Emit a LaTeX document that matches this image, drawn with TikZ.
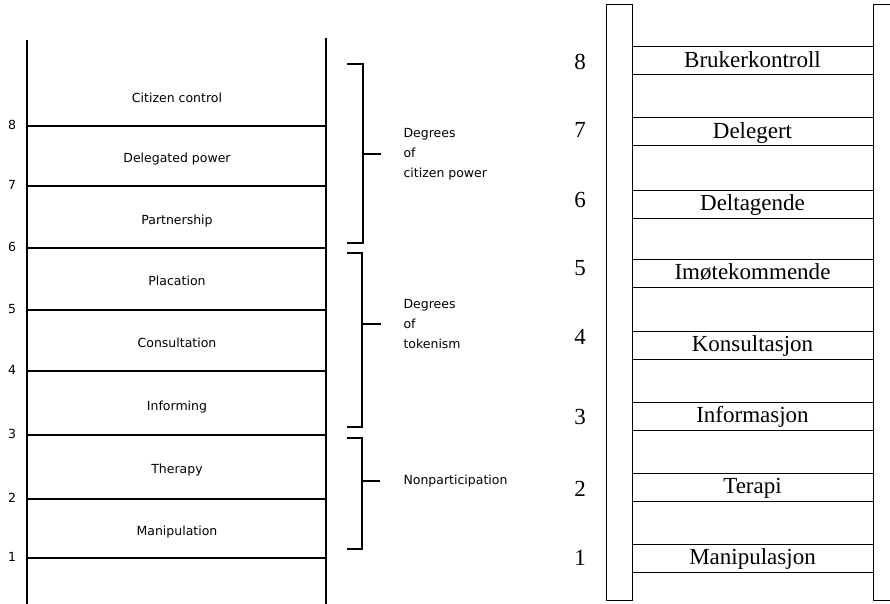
\documentclass[tikz,border=0pt]{standalone}
\usepackage{fontspec}
\setmainfont{Liberation Serif}
\newfontfamily\laddersans{DejaVu Sans}
\usepackage{tikz}
\usetikzlibrary{positioning}
\tikzset{
  rail/.style={line width=2.2pt},
  rung/.style={line width=2.6pt},
  bracket/.style={line width=2pt},
  entext/.style={font=\laddersans\fontsize{12.5}{20}\selectfont},
  notext/.style={font=\fontsize{23}{26}\selectfont},
  railbox/.style={draw,line width=1pt,fill=white},
  rungbox/.style={draw,line width=1pt,minimum width=241pt,minimum height=28pt,
    inner sep=0pt,text height=15pt,text depth=2pt,font=\fontsize{23}{26}\selectfont},
}

\begin{document}
\begin{tikzpicture}[x=1pt,y=-1pt]
    \useasboundingbox (0,0) rectangle (890,604);
    % ladder in English
    \draw [rail] (27,40) -- (27,604);
    \draw [rail] (326,38) -- (326,604);
    \foreach \n/\y in {8/126,7/186,6/248,5/310,4/371,3/435,2/499,1/558}
      {\draw [rung] (27,\y) -- (326,\y);
       \node [entext] (en\n) at (12,\y-1) {\n};}
    \foreach \lbl/\y [count=\i] in {Manipulation/532,Therapy/470,Informing/407,Consultation/343,
        Placation/281,Partnership/221,Delegated power/159,Citizen control/98}
      \node [entext] (enstep\i) at (177,\y) {\lbl};
    % the three groups
    \draw [bracket] (347,64) -- (363,64) -- (363,243) -- (347,243);
    \draw [bracket] (363,154) -- (381,154) coordinate (power);
    \draw [bracket] (347,253) -- (362,253) -- (362,427) -- (347,427);
    \draw [bracket] (362,324) -- (381,324) coordinate (token);
    \draw [bracket] (347,438) -- (362,438) -- (362,549) -- (347,549);
    \draw [bracket] (362,481) -- (380,481) coordinate (nonpart);
    \node [entext,align=left,right=19pt of power] (powerlbl) {Degrees\\of\\citizen power};
    \node [entext,align=left,right=19pt of token] (tokenlbl) {Degrees\\of\\tokenism};
    \node [entext,right=20pt of nonpart] (nonpartlbl) {Nonparticipation};
    % ladder in Norwegian
    \draw [railbox] (606,5) rectangle (632,600);
    \draw [line width=1pt] (890,5) -- (873,5) -- (873,600) -- (890,600);
    \foreach \n/\lbl/\top/\ny in {8/Brukerkontroll/47/62,7/Delegert/118/130,6/Deltagende/190/200,
        5/Imøtekommende/259/268,4/Konsultasjon/331/337,3/Informasjon/402/417,
        2/Terapi/473/489,1/Manipulasjon/544/558}
      {\node [rungbox] (no\n) at (752.5,\top+14) {\lbl};
       \node [notext] (nonum\n) at (580,\ny) {\n};}
\end{tikzpicture}
\end{document}
